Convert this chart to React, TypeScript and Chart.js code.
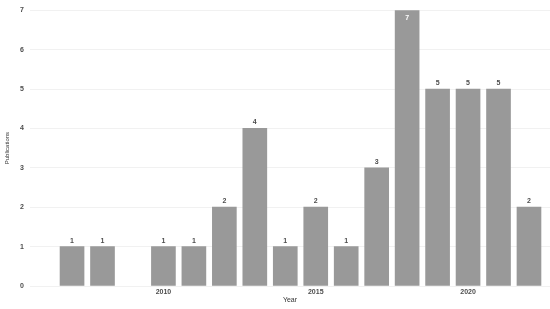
import React, { useEffect, useRef } from "react";
import { Chart, registerables } from "chart.js";

Chart.register(...registerables);

const years = [2007, 2008, 2010, 2011, 2012, 2013, 2014, 2015, 2016, 2017, 2018, 2019, 2020, 2021, 2022];
const publications = [1, 1, 1, 1, 2, 4, 1, 2, 1, 3, 7, 5, 5, 5, 2];
const xTickYears = [2010, 2015, 2020];
const yTicks = [0, 1, 2, 3, 4, 5, 6, 7];

const FONT = "'Liberation Sans', Arial, sans-serif";

const labelPlugin = {
  id: "barLabels",
  afterDatasetsDraw(chart: any) {
    const ctx = chart.ctx;
    const meta = chart.getDatasetMeta(0);
    const maxV = Math.max(...publications);
    ctx.save();
    ctx.font = `bold 7px ${FONT}`;
    ctx.textAlign = "center";
    ctx.textBaseline = "middle";
    meta.data.forEach((el: any, i: number) => {
      const v = publications[i];
      if (v === maxV) {
        ctx.fillStyle = "#ffffff";
        ctx.fillText(String(v), el.x, el.y + 8);
      } else {
        ctx.fillStyle = "#4d4d4d";
        ctx.fillText(String(v), el.x, el.y - 6);
      }
    });
    ctx.restore();
  },
};

export default function App() {
  const ref = useRef<HTMLCanvasElement>(null);
  useEffect(() => {
    document.body.style.margin = "0";
    const chart = new Chart(ref.current!, {
      type: "bar",
      data: {
        datasets: [
          {
            data: years.map((y, i) => ({ x: y, y: publications[i] })),
            backgroundColor: "#999999",
            barThickness: 24,
          },
        ],
      },
      options: {
        animation: false,
        responsive: false,
        maintainAspectRatio: false,
        layout: { padding: { top: 0, right: 0, left: 0, bottom: 5 } },
        plugins: { legend: { display: false }, tooltip: { enabled: false } },
        scales: {
          x: {
            type: "linear",
            offset: false,
            min: 2005.62,
            max: 2022.69,
            grid: { display: false, drawTicks: false, offset: false },
            border: { display: false },
            afterBuildTicks: (s: any) => {
              s.ticks = xTickYears.map((v) => ({ value: v }));
            },
            afterFit: (s: any) => {
              s.height = 18;
            },
            ticks: {
              autoSkip: false,
              maxRotation: 0,
              padding: 2,
              color: "#4d4d4d",
              font: { family: FONT, size: 7, weight: "bold" },
              callback: (v: any) => String(v),
            },
            title: {
              display: true,
              text: "Year",
              color: "#333333",
              font: { family: FONT, size: 7 },
              padding: { top: 0, bottom: 0 },
            },
          },
          y: {
            min: 0,
            max: 7,
            grid: { color: "#f1f1f1", lineWidth: 1, drawTicks: false },
            border: { display: false },
            afterBuildTicks: (s: any) => {
              s.ticks = yTicks.map((v) => ({ value: v }));
            },
            afterFit: (s: any) => {
              s.width = 30;
            },
            ticks: {
              padding: 6,
              color: "#4d4d4d",
              font: { family: FONT, size: 7, weight: "bold" },
            },
            title: {
              display: true,
              text: "Publications",
              color: "#333333",
              font: { family: FONT, size: 6 },
              padding: { top: 4, bottom: 0 },
            },
          },
        },
      },
      plugins: [labelPlugin],
    });
    return () => chart.destroy();
  }, []);
  return (
    <div style={{ position: "fixed", left: 0, top: 0, width: 550, height: 309 }}>
      <canvas ref={ref} width={550} height={309} style={{ width: 550, height: 309 }} />
    </div>
  );
}
